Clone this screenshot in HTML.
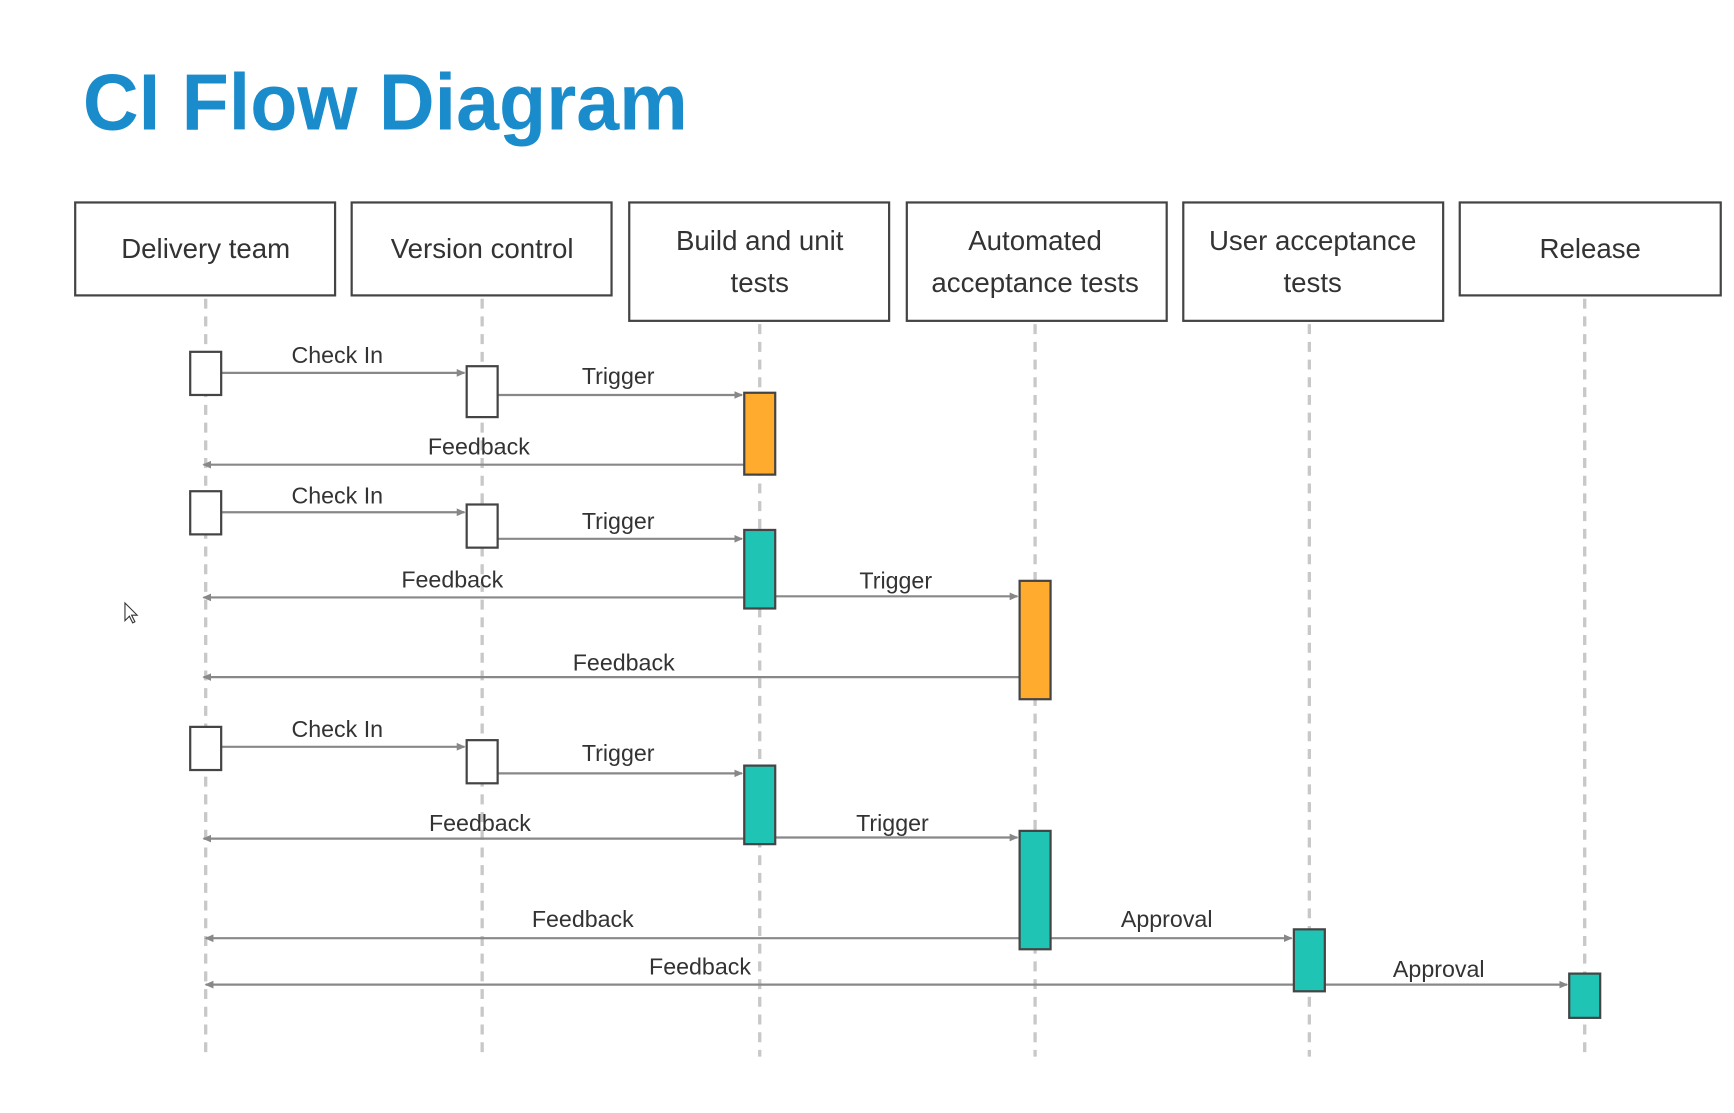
<!DOCTYPE html>
<html><head><meta charset="utf-8"><style>
html,body{margin:0;padding:0;background:#fff;width:1734px;height:1113px;overflow:hidden}
svg{display:block}
text{font-family:"Liberation Sans",sans-serif;fill:#333}
</style></head><body>
<svg width="1734" height="1113" viewBox="0 0 1568 1006" preserveAspectRatio="none">
<defs>
<marker id="a" markerWidth="8" markerHeight="8" refX="7" refY="4" orient="auto" markerUnits="userSpaceOnUse"><path d="M0,0.5 L8,4 L0,7.5 z" fill="#888"/></marker>
</defs>
<text x="75" y="117" font-size="72" font-weight="bold" textLength="547" lengthAdjust="spacingAndGlyphs" style="fill:#1a8ccc">CI Flow Diagram</text>
<g stroke="#c8c8c8" stroke-width="3" stroke-dasharray="9,7">
<line x1="186" y1="270" x2="186" y2="955"/>
<line x1="436" y1="270" x2="436" y2="955"/>
<line x1="687" y1="293" x2="687" y2="955"/>
<line x1="936" y1="293" x2="936" y2="955"/>
<line x1="1184" y1="293" x2="1184" y2="955"/>
<line x1="1433" y1="270" x2="1433" y2="955"/>
</g>
<g fill="#fff" stroke="#444" stroke-width="2">
<rect x="68" y="183" width="235" height="84"/>
<rect x="318" y="183" width="235" height="84"/>
<rect x="569" y="183" width="235" height="107"/>
<rect x="820" y="183" width="235" height="107"/>
<rect x="1070" y="183" width="235" height="107"/>
<rect x="1320" y="183" width="236" height="84"/>
</g>
<g font-size="25" text-anchor="middle">
<text x="186" y="233">Delivery team</text>
<text x="436" y="233">Version control</text>
<text x="687" y="226">Build and unit</text><text x="687" y="264">tests</text>
<text x="936" y="226">Automated</text><text x="936" y="264">acceptance tests</text>
<text x="1187" y="226">User acceptance</text><text x="1187" y="264">tests</text>
<text x="1438" y="233">Release</text>
</g>
<g stroke="#888" stroke-width="2" marker-end="url(#a)">
<line x1="200" y1="337" x2="420" y2="337"/>
<line x1="450" y1="357" x2="671" y2="357"/>
<line x1="673" y1="420" x2="184" y2="420"/>
<line x1="200" y1="463" x2="420" y2="463"/>
<line x1="450" y1="487" x2="671" y2="487"/>
<line x1="673" y1="540" x2="184" y2="540"/>
<line x1="701" y1="539" x2="920" y2="539"/>
<line x1="922" y1="612" x2="184" y2="612"/>
<line x1="200" y1="675" x2="420" y2="675"/>
<line x1="450" y1="699" x2="671" y2="699"/>
<line x1="673" y1="758" x2="184" y2="758"/>
<line x1="701" y1="757" x2="920" y2="757"/>
<line x1="922" y1="848" x2="186" y2="848"/>
<line x1="950" y1="848" x2="1168" y2="848"/>
<line x1="1170" y1="890" x2="186" y2="890"/>
<line x1="1198" y1="890" x2="1417" y2="890"/>
</g>
<g stroke="#444" stroke-width="2">
<rect x="172" y="318" width="28" height="39" fill="#fff"/>
<rect x="422" y="331" width="28" height="46" fill="#fff"/>
<rect x="673" y="355" width="28" height="74" fill="#ffab2e"/>
<rect x="172" y="444" width="28" height="39" fill="#fff"/>
<rect x="422" y="456" width="28" height="39" fill="#fff"/>
<rect x="673" y="479" width="28" height="71" fill="#1fc4b4"/>
<rect x="922" y="525" width="28" height="107" fill="#ffab2e"/>
<rect x="172" y="657" width="28" height="39" fill="#fff"/>
<rect x="422" y="669" width="28" height="39" fill="#fff"/>
<rect x="673" y="692" width="28" height="71" fill="#1fc4b4"/>
<rect x="922" y="751" width="28" height="107" fill="#1fc4b4"/>
<rect x="1170" y="840" width="28" height="56" fill="#1fc4b4"/>
<rect x="1419" y="880" width="28" height="40" fill="#1fc4b4"/>
</g>
<g font-size="21" text-anchor="middle">
<text x="305" y="328">Check In</text>
<text x="559" y="347">Trigger</text>
<text x="433" y="411">Feedback</text>
<text x="305" y="455">Check In</text>
<text x="559" y="478">Trigger</text>
<text x="409" y="531">Feedback</text>
<text x="810" y="532">Trigger</text>
<text x="564" y="606">Feedback</text>
<text x="305" y="666">Check In</text>
<text x="559" y="688">Trigger</text>
<text x="434" y="751">Feedback</text>
<text x="807" y="751">Trigger</text>
<text x="527" y="838">Feedback</text>
<text x="1055" y="838">Approval</text>
<text x="633" y="881">Feedback</text>
<text x="1301" y="883">Approval</text>
</g>
<path d="M113,545 L113,561 L117,557 L120,563 L122,562 L119,556 L124,556 z" fill="#fff" stroke="#333" stroke-width="1"/>
</svg>
</body></html>
